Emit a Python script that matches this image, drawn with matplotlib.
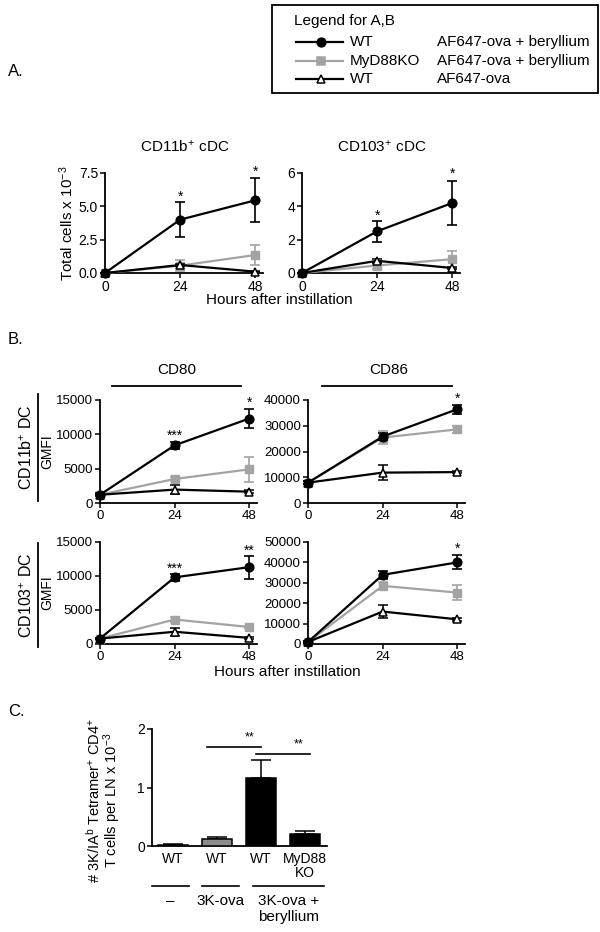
import matplotlib
matplotlib.use("Agg")
import matplotlib.pyplot as plt
from matplotlib.lines import Line2D
from matplotlib.patches import Rectangle

plt.rcParams['font.family'] = ['Liberation Sans', 'DejaVu Sans']
plt.rcParams['mathtext.fontset'] = 'custom'
plt.rcParams['mathtext.rm'] = 'Liberation Sans'
plt.rcParams['mathtext.default'] = 'regular'

# 데이터
hours = [0, 24, 48]

# A: total cells x 10^-3
a_cd11b_wt = [0, 4.0, 5.45]
a_cd11b_wt_err = [0, 1.3, 1.65]
a_cd11b_ko = [0, 0.55, 1.35]
a_cd11b_ko_err = [0, 0.4, 0.75]
a_cd11b_ova = [0, 0.6, 0.1]
a_cd11b_ova_err = [0, 0.08, 0.05]

a_cd103_wt = [0, 2.5, 4.2]
a_cd103_wt_err = [0, 0.62, 1.3]
a_cd103_ko = [0, 0.45, 0.83]
a_cd103_ko_err = [0, 0.2, 0.5]
a_cd103_ova = [0, 0.73, 0.3]
a_cd103_ova_err = [0, 0.1, 0.05]

# B: GMFI
b_cd80_11b_wt = [1200, 8400, 12300]
b_cd80_11b_wt_err = [200, 500, 1450]
b_cd80_11b_ko = [1200, 3500, 4900]
b_cd80_11b_ko_err = [100, 300, 1800]
b_cd80_11b_ova = [1200, 1950, 1650]
b_cd80_11b_ova_err = [100, 600, 200]

b_cd86_11b_wt = [7900, 25800, 36400]
b_cd86_11b_wt_err = [500, 1500, 1700]
b_cd86_11b_ko = [7900, 25400, 28600]
b_cd86_11b_ko_err = [500, 2500, 1300]
b_cd86_11b_ova = [7900, 11800, 12000]
b_cd86_11b_ova_err = [500, 2800, 500]

b_cd80_103_wt = [800, 9800, 11300]
b_cd80_103_wt_err = [100, 500, 1700]
b_cd80_103_ko = [800, 3600, 2500]
b_cd80_103_ko_err = [100, 300, 200]
b_cd80_103_ova = [800, 1800, 900]
b_cd80_103_ova_err = [100, 600, 200]

b_cd86_103_wt = [1000, 33900, 40000]
b_cd86_103_wt_err = [300, 2000, 3400]
b_cd86_103_ko = [1000, 28500, 25200]
b_cd86_103_ko_err = [300, 1800, 3500]
b_cd86_103_ova = [1000, 15900, 12100]
b_cd86_103_ova_err = [300, 3300, 800]

# 유의성 표시 (hour, y, text)
stars_a_11b = [(24, 6.0, '*'), (48, 7.85, '*')]
stars_a_103 = [(24, 3.64, '*'), (48, 6.14, '*')]
stars_cd80_11b = [(24, 10240, '***'), (48, 15100, '*')]
stars_cd86_11b = [(48, 41900, '*')]
stars_cd80_103 = [(24, 11500, '***'), (48, 14200, '**')]
stars_cd86_103 = [(48, 48200, '*')]

# C: tetramer+ CD4+ T cells per LN x 10^-3
c_labels = ['WT', 'WT', 'WT', 'MyD88\nKO']
c_values = [0.02, 0.12, 1.17, 0.21]
c_errors = [0.015, 0.03, 0.3, 0.05]
c_colors = ['white', '#8c8c8c', 'black', 'black']
c_groups = [(-0.48, 0.36, '–'), (0.66, 1.5, '3K-ova'), (1.82, 3.43, '3K-ova +\nberyllium')]
c_brackets = [(0.77, 2.0, 1.69, '**'), (1.89, 3.11, 1.57, '**')]

BLACK = 'black'
GRAY = '#a3a3a3'
W, H = 600, 932


def rect(x0, y0, x1, y1):
    return [x0 / W, 1 - y1 / H, (x1 - x0) / W, (y1 - y0) / H]


def style_axes(ax, fs):
    for s in ['top', 'right']:
        ax.spines[s].set_visible(False)
    for s in ['left', 'bottom']:
        ax.spines[s].set_linewidth(1.3)
    ax.tick_params(direction='out', length=3.5, width=1.1, labelsize=fs, pad=1.5)


def plot_timecourse(ax, wt, wt_err, ko, ko_err, ova, ova_err, ylim, yticks, ylabels, stars, fs):
    ax.errorbar(hours, ko, yerr=ko_err, color=GRAY, marker='s', ms=5.5, lw=1.6,
                elinewidth=1.2, capsize=3.5, capthick=1.2, clip_on=False, zorder=3)
    ax.errorbar(hours, ova, yerr=ova_err, color=BLACK, marker='^', ms=6, mfc='white',
                mew=1.1, lw=1.6, elinewidth=1.2, capsize=3.5, capthick=1.2, clip_on=False, zorder=4)
    ax.errorbar(hours, wt, yerr=wt_err, color=BLACK, marker='o', ms=6.3, lw=1.6,
                elinewidth=1.2, capsize=3.5, capthick=1.2, clip_on=False, zorder=5)
    ax.set_xlim(0, 50.5)
    ax.set_ylim(*ylim)
    ax.set_xticks(hours)
    ax.set_yticks(yticks)
    ax.set_yticklabels(ylabels)
    for h, y, t in stars:
        ax.annotate(t, (h, y), xytext=(0, -2.5), textcoords='offset points',
                    ha='center', va='center', fontsize=10, annotation_clip=False)
    style_axes(ax, fs)


fig = plt.figure(figsize=(6, 9.32), dpi=100)

# 범례 (A, B 공통)
fig.patches.append(Rectangle((272 / W, 1 - 93 / H), (598 - 272) / W, (93 - 5) / H,
                             transform=fig.transFigure, fill=False, lw=1.3, ec='black'))
fig.text(294 / W, 1 - 21 / H, 'Legend for A,B', fontsize=11, va='center')
leg_rows = [(42, BLACK, 'o', BLACK, 'WT', 'AF647-ova + beryllium'),
            (61, GRAY, 's', GRAY, 'MyD88KO', 'AF647-ova + beryllium'),
            (79, BLACK, '^', 'white', 'WT', 'AF647-ova')]
for y, c, m, mfc, geno, treat in leg_rows:
    fig.add_artist(Line2D([296 / W, 343 / W], [1 - y / H, 1 - y / H], transform=fig.transFigure,
                          color=c, lw=1.6))
    fig.add_artist(Line2D([321 / W], [1 - y / H], transform=fig.transFigure, color=c,
                          marker=m, ms=6.3, mfc=mfc, mew=1.1, lw=0))
    fig.text(350 / W, 1 - y / H, geno, fontsize=11, va='center')
    fig.text(437 / W, 1 - y / H, treat, fontsize=11, va='center')

# 패널 A
fig.text(8 / W, 1 - 72 / H, 'A.', fontsize=12, va='center')
ax1 = fig.add_axes(rect(105, 173, 263, 273))
plot_timecourse(ax1, a_cd11b_wt, a_cd11b_wt_err, a_cd11b_ko, a_cd11b_ko_err,
                a_cd11b_ova, a_cd11b_ova_err, (0, 7.5), [0, 2.5, 5, 7.5],
                ['0.0', '2.5', '5.0', '7.5'], stars_a_11b, 10)
ax1.set_ylabel('Total cells x 10$^{-3}$', fontsize=11, labelpad=2)
fig.text(185 / W, 1 - 147 / H, 'CD11b$^{+}$ cDC', fontsize=11, ha='center', va='center')

ax2 = fig.add_axes(rect(302, 173, 460, 273))
plot_timecourse(ax2, a_cd103_wt, a_cd103_wt_err, a_cd103_ko, a_cd103_ko_err,
                a_cd103_ova, a_cd103_ova_err, (0, 6), [0, 2, 4, 6],
                ['0', '2', '4', '6'], stars_a_103, 10)
fig.text(382 / W, 1 - 147 / H, 'CD103$^{+}$ cDC', fontsize=11, ha='center', va='center')
fig.text(279 / W, 1 - 300 / H, 'Hours after instillation', fontsize=11, ha='center', va='center')

# 패널 B
fig.text(8 / W, 1 - 340 / H, 'B.', fontsize=12, va='center')
fig.text(177 / W, 1 - 370 / H, 'CD80', fontsize=11, ha='center', va='center')
fig.text(389 / W, 1 - 370 / H, 'CD86', fontsize=11, ha='center', va='center')
fig.add_artist(Line2D([112 / W, 241 / W], [1 - 386 / H] * 2, transform=fig.transFigure, color='black', lw=1.3))
fig.add_artist(Line2D([322 / W, 452 / W], [1 - 386 / H] * 2, transform=fig.transFigure, color='black', lw=1.3))

k80 = [0, 5000, 10000, 15000]
ax3 = fig.add_axes(rect(100, 400, 257, 503))
plot_timecourse(ax3, b_cd80_11b_wt, b_cd80_11b_wt_err, b_cd80_11b_ko, b_cd80_11b_ko_err,
                b_cd80_11b_ova, b_cd80_11b_ova_err, (0, 15000), k80,
                [str(v) for v in k80], stars_cd80_11b, 9.5)
ax3.set_ylabel('GMFI', fontsize=10, labelpad=1)

k86a = [0, 10000, 20000, 30000, 40000]
ax4 = fig.add_axes(rect(308, 400, 465, 503))
plot_timecourse(ax4, b_cd86_11b_wt, b_cd86_11b_wt_err, b_cd86_11b_ko, b_cd86_11b_ko_err,
                b_cd86_11b_ova, b_cd86_11b_ova_err, (0, 40000), k86a,
                [str(v) for v in k86a], stars_cd86_11b, 9.5)

ax5 = fig.add_axes(rect(100, 542, 257, 644))
plot_timecourse(ax5, b_cd80_103_wt, b_cd80_103_wt_err, b_cd80_103_ko, b_cd80_103_ko_err,
                b_cd80_103_ova, b_cd80_103_ova_err, (0, 15000), k80,
                [str(v) for v in k80], stars_cd80_103, 9.5)
ax5.set_ylabel('GMFI', fontsize=10, labelpad=1)

k86b = [0, 10000, 20000, 30000, 40000, 50000]
ax6 = fig.add_axes(rect(308, 542, 465, 644))
plot_timecourse(ax6, b_cd86_103_wt, b_cd86_103_wt_err, b_cd86_103_ko, b_cd86_103_ko_err,
                b_cd86_103_ova, b_cd86_103_ova_err, (0, 50000), k86b,
                [str(v) for v in k86b], stars_cd86_103, 9.5)

fig.add_artist(Line2D([38 / W] * 2, [1 - 394 / H, 1 - 501 / H], transform=fig.transFigure, color='black', lw=1.3))
fig.add_artist(Line2D([38 / W] * 2, [1 - 543 / H, 1 - 647 / H], transform=fig.transFigure, color='black', lw=1.3))
fig.text(27 / W, 1 - 447 / H, 'CD11b$^{+}$ DC', fontsize=11.5, rotation=90, ha='center', va='center')
fig.text(27 / W, 1 - 595 / H, 'CD103$^{+}$ DC', fontsize=11.5, rotation=90, ha='center', va='center')
fig.text(287 / W, 1 - 672 / H, 'Hours after instillation', fontsize=11, ha='center', va='center')

# 패널 C
fig.text(8 / W, 1 - 712 / H, 'C.', fontsize=12, va='center')
ax7 = fig.add_axes(rect(152, 729, 327, 846))
xs = list(range(len(c_values)))
ax7.bar(xs, c_values, width=0.68, color=c_colors, edgecolor='black', lw=1.1, zorder=3)
ax7.errorbar(xs, c_values, yerr=[[0] * len(c_errors), c_errors], fmt='none', ecolor='black',
             elinewidth=1.1, capsize=7, capthick=1.1, zorder=2)
ax7.set_xlim(-0.48, 3.5)
ax7.set_ylim(0, 2)
ax7.set_yticks([0, 1, 2])
ax7.set_yticklabels(['0', '1', '2'])
ax7.set_xticks(xs)
ax7.set_xticklabels(c_labels, fontsize=10, linespacing=1.0)
style_axes(ax7, 10)
ax7.tick_params(axis='x', length=0, pad=4)
for x0, x1, y, t in c_brackets:
    ax7.plot([x0, x1], [y, y], color='black', lw=1.2, clip_on=False)
    ax7.text(x1 - 0.25, y + 0.06, t, fontsize=9, ha='center', va='bottom')
for x0, x1, t in c_groups:
    ax7.plot([x0, x1], [-0.68, -0.68], color='black', lw=1.2, clip_on=False)
    ax7.text((x0 + x1) / 2, -0.82, t, fontsize=11, ha='center', va='top', linespacing=1.15)
fig.text(94 / W, 1 - 800 / H, '# 3K/IA$^{b}$ Tetramer$^{+}$ CD4$^{+}$', fontsize=10.5,
         rotation=90, ha='center', va='center')
fig.text(112 / W, 1 - 800 / H, 'T cells per LN x 10$^{-3}$', fontsize=10.5,
         rotation=90, ha='center', va='center')

fig.savefig('out.png', dpi=100)
